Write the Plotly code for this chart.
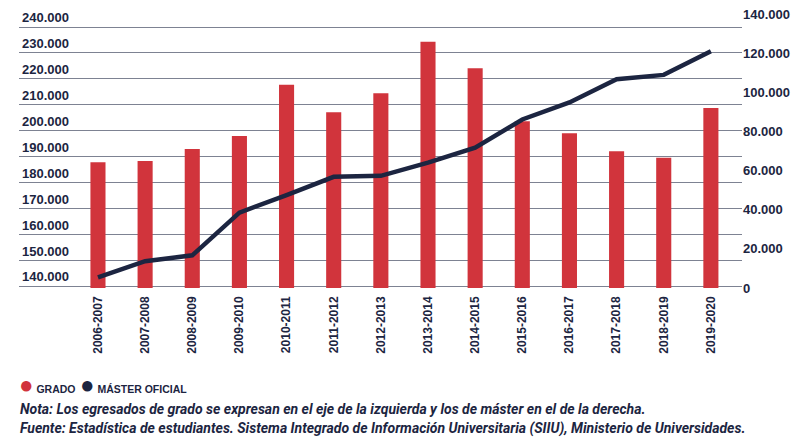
import plotly.graph_objects as go

# =========================
# DATA
# =========================
cursos = ["2006-2007", "2007-2008", "2008-2009", "2009-2010", "2010-2011",
          "2011-2012", "2012-2013", "2013-2014", "2014-2015", "2015-2016",
          "2016-2017", "2017-2018", "2018-2019", "2019-2020"]

grado = [187800, 188300, 192900, 197900, 217700, 207100, 214400,
         234300, 224100, 203600, 199000, 192000, 189500, 208700]

master = [5400, 13700, 16700, 38500, 47500, 56800, 57300,
          64100, 71700, 86100, 94800, 106700, 108900, 121000]

left_ticks = [140000, 150000, 160000, 170000, 180000, 190000,
              200000, 210000, 220000, 230000, 240000]
right_ticks = [0, 20000, 40000, 60000, 80000, 100000, 120000, 140000]

# =========================
# STYLE
# =========================
RED = "#d1343c"
NAVY = "#1c2541"
GRID = "#7d8292"
FONT = "Liberation Sans, Arial, sans-serif"
NOTE_FONT = "Roboto, Liberation Sans, sans-serif"

fig = go.Figure()

fig.add_trace(go.Bar(
    x=cursos, y=grado, name="GRADO",
    marker=dict(color=RED, line=dict(width=0)),
    width=0.32, yaxis="y", showlegend=False
))

fig.add_trace(go.Scatter(
    x=cursos, y=master, name="MÁSTER OFICIAL",
    mode="lines", line=dict(color=NAVY, width=4.5),
    yaxis="y2", showlegend=False
))

# invisible copy so the left label axis gets drawn
fig.add_trace(go.Scatter(
    x=cursos, y=grado, mode="none", hoverinfo="skip",
    yaxis="y3", showlegend=False
))

# plot area is 274px tall; left gridlines 140.000-240.000 take 259px,
# bottom gridline kept 2px above the plot edge so it is not clipped
px_unit = 100000 / 259
left_range = [140000 - 2 * px_unit, 140000 + 272 * px_unit]
right_range = [0, 140000]
tickfont = dict(family=FONT, size=13, color=NAVY, weight="bold")

# page body adds 8px margin, so figure is 792x435
fig.update_layout(
    width=792, height=435,
    margin=dict(l=11, r=58, t=6, b=155, autoexpand=False),
    plot_bgcolor="white", paper_bgcolor="white",
    separators=",.",
    xaxis=dict(
        type="category", range=[-1.675, 13.66], automargin=False,
        tickangle=-90, showgrid=False, showline=False, ticks="",
        ticklabelstandoff=5,
        tickfont=dict(family=FONT, size=12, color=NAVY, weight="bold"),
    ),
    # gridlines only
    yaxis=dict(
        range=left_range, tickvals=left_ticks,
        showgrid=True, gridcolor=GRID, gridwidth=1,
        zeroline=False, showline=False, ticks="", automargin=False,
        showticklabels=False,
    ),
    yaxis2=dict(
        overlaying="y", side="right", automargin=False,
        range=right_range, tickvals=right_ticks, tickformat=",d",
        showgrid=False, zeroline=False, showline=False, ticks="",
        ticklabeloverflow="allow",
        tickfont=tickfont,
    ),
    # left labels sit above their gridlines
    yaxis3=dict(
        overlaying="y", side="left", anchor="x", automargin=False,
        range=left_range, tickvals=left_ticks, tickformat=",d",
        showgrid=False, zeroline=False, showline=False, ticks="",
        ticklabelposition="inside top", ticklabeloverflow="allow",
        tickfont=tickfont,
    ),
)

# legend and notes as text
fig.add_annotation(
    xref="paper", yref="paper", x=-0.003, y=-0.354, xanchor="left", yanchor="middle",
    text=f"<span style='color:{RED};font-size:24px'>●</span> GRADO",
    showarrow=False, font=dict(family=FONT, size=10.5, color=NAVY, weight="bold"),
)
fig.add_annotation(
    xref="paper", yref="paper", x=0.082, y=-0.354, xanchor="left", yanchor="middle",
    text=f"<span style='color:{NAVY};font-size:24px'>●</span> MÁSTER OFICIAL",
    showarrow=False, font=dict(family=FONT, size=10.5, color=NAVY, weight="bold"),
)
fig.add_annotation(
    xref="paper", yref="paper", x=-0.002, y=-0.442, xanchor="left", yanchor="middle",
    text="<i>Nota: Los egresados de grado se expresan en el eje de la izquierda y los de máster en el de la derecha.</i>",
    showarrow=False, font=dict(family=NOTE_FONT, size=14, color=NAVY, weight="bold"),
)
fig.add_annotation(
    xref="paper", yref="paper", x=-0.002, y=-0.514, xanchor="left", yanchor="middle",
    text="<i>Fuente: Estadística de estudiantes. Sistema Integrado de Información Universitaria (SIIU), Ministerio de Universidades.</i>",
    showarrow=False, font=dict(family=NOTE_FONT, size=14, color=NAVY, weight="bold"),
)

fig.write_html("out.html")
